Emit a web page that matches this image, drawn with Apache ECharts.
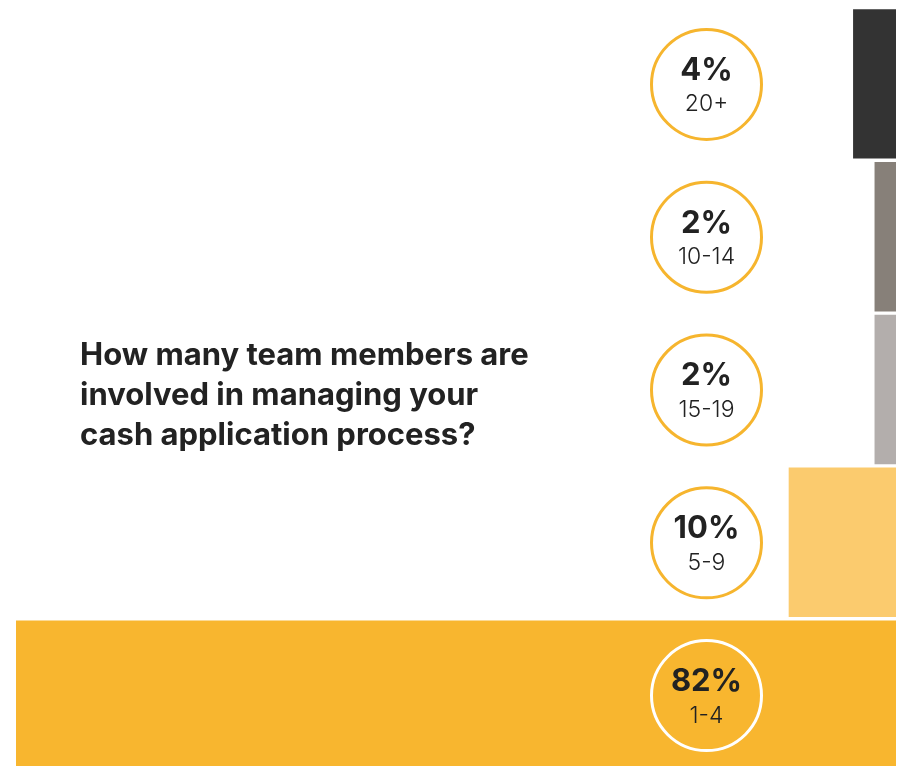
<!DOCTYPE html>
<html><head><meta charset="utf-8">
<script src="https://cdn.jsdelivr.net/npm/echarts@6/dist/echarts.min.js"></script>
<style>html,body{margin:0;padding:0;background:#fff}#c{width:907px;height:766px}</style>
</head><body><div id="c"></div>
<script>
const categories = ['20+', '10-14', '15-19', '5-9', '1-4'];
const percents = [4, 2, 2, 10, 82];
const barColors = ['#333333', '#878079', '#B3AEAC', '#FBCB6E', '#F8B62F'];
const titleText = 'How many team members are\ninvolved in managing your\ncash application process?';

const chart = echarts.init(document.getElementById('c'));
chart.setOption({
  animation: false,
  title: {
    text: titleText, left: 75, top: 331,
    textStyle: { fontFamily: 'Inter', fontWeight: 'bold', fontSize: 31, lineHeight: 40, color: '#222222' }
  },
  grid: { left: 16, right: 11, top: 7.5, height: 764, outerBoundsMode: 'none' },
  xAxis: { type: 'value', min: 0, max: 82, inverse: true, show: false },
  yAxis: { type: 'category', data: categories, inverse: true, show: false },
  series: [
    {
      type: 'bar', barCategoryGap: '2.2%', z: 2,
      data: percents.map((v, i) => ({ value: v, itemStyle: { color: barColors[i] } }))
    },
    {
      type: 'custom', z: 10, clip: false,
      data: percents.map((v, i) => [v, i]),
      encode: { x: 0, y: 1 },
      renderItem: function (params, api) {
        const i = params.dataIndex;
        const p = api.coord([0, i]);
        const cx = p[0] - 189.5, cy = p[1] + 0.5;
        const last = i === categories.length - 1;
        return {
          type: 'group',
          children: [
            { type: 'circle', shape: { cx: cx, cy: cy, r: 55 },
              style: { fill: last ? 'rgba(0,0,0,0)' : '#ffffff', stroke: last ? '#ffffff' : '#F6B52E', lineWidth: 3 } },
            { type: 'text', style: { text: percents[i] + '%', x: cx, y: cy - 14, align: 'center', verticalAlign: 'middle',
              font: 'bold 31px Inter', fill: '#222222' } },
            { type: 'text', style: { text: categories[i], x: cx, y: cy + 20, align: 'center', verticalAlign: 'middle',
              font: '300 23px Inter', fill: '#222222' } }
          ]
        };
      }
    }
  ]
});
</script></body></html>
